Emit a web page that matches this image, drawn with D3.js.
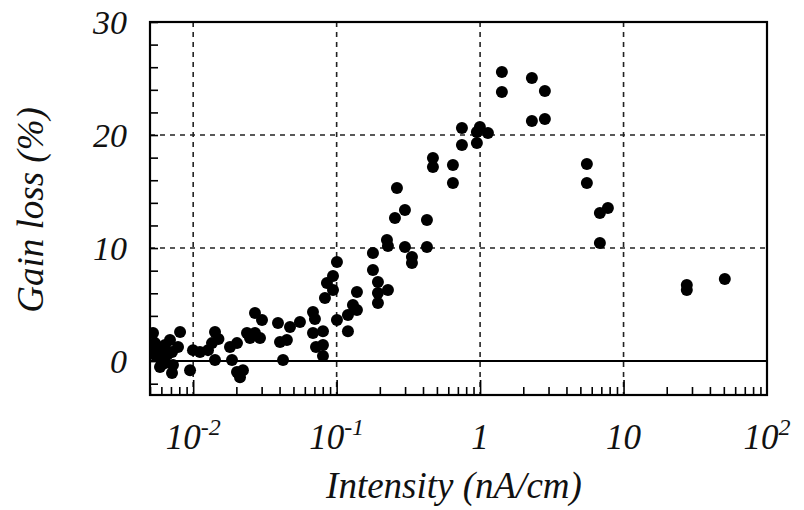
<!DOCTYPE html>
<html>
<head>
<meta charset="utf-8">
<script src="https://cdn.jsdelivr.net/npm/d3@7"></script>
<style>
  body { margin: 0; background: #fff; }
  text { font-family: "Liberation Serif", "Times New Roman", serif; font-style: italic; fill: #111; }
</style>
</head>
<body>
<div id="chart"></div>
<script>
const width = 804;
const height = 510;

// Data: beam intensity (nA/cm) and gain loss (%)
const intensity = [
  0.00525, 0.00542, 0.00542, 0.00587, 0.00606, 0.00636, 0.00689, 0.00712, 0.00712, 0.00723,
  0.00784, 0.00810, 0.00951, 0.00997, 0.01115, 0.01268, 0.01352, 0.01419, 0.01419, 0.01805,
  0.01864, 0.02020, 0.02120, 0.02223, 0.02020, 0.02371, 0.02696, 0.03017, 0.02696, 0.02488,
  0.02922, 0.0390, 0.0403, 0.0450, 0.0423, 0.0473, 0.0555, 0.0684, 0.0706, 0.0684,
  0.0718, 0.0803, 0.0803, 0.0803, 0.1005, 0.1199, 0.1199, 0.1299, 0.1385, 0.1385,
  0.0829, 0.0943, 0.0856, 0.0943, 0.1005, 0.1791, 0.1791, 0.1940, 0.1940, 0.1940,
  0.2278, 0.2242, 0.2278, 0.2633, 0.2993, 0.2550, 0.4260, 0.2993, 0.4260, 0.3349,
  0.3349, 0.469, 0.469, 0.6465, 0.6465, 0.747, 0.747, 0.950, 0.997, 1.134,
  0.950, 1.419, 1.419, 2.297, 2.829, 2.297, 2.829, 5.55, 5.55, 6.84,
  7.78, 6.84, 27.6, 27.6, 50.8,
  0.00516, 0.00587, 0.00636, 0.00660, 0.0150
];
const gainLoss = [
  2.48, 1.59, 0.53, 0.27, 0.97, -0.18, 1.86, 0.80, -1.06, -0.35,
  1.24, 2.57, -0.80, 0.97, 0.80, 0.97, 1.59, 2.57, 0.09, 1.24,
  0.09, -0.97, -1.42, -0.80, 1.59, 2.48, 4.25, 3.63, 2.48, 2.04,
  2.04, 3.36, 1.68, 1.86, 0.09, 3.01, 3.45, 4.34, 3.72, 2.48,
  1.24, 2.65, 1.42, 0.44, 3.63, 2.65, 4.07, 4.96, 4.51, 6.11,
  5.58, 6.28, 6.90, 7.52, 8.76, 9.56, 8.05, 6.99, 6.02, 5.13,
  6.28, 10.71, 10.18, 15.31, 13.36, 12.65, 12.48, 10.09, 10.09, 9.20,
  8.67, 17.96, 17.17, 17.35, 15.75, 20.62, 19.12, 20.27, 20.71, 20.18,
  19.29, 25.58, 23.81, 25.04, 23.89, 21.24, 21.42, 17.43, 15.75, 13.10,
  13.54, 10.44, 6.73, 6.28, 7.26,
  0.97, -0.53, 1.42, 0.55, 1.95
];

const xTickValues = [0.01, 0.1, 1, 10, 100];
const xTickBase = ["10", "10", "1", "10", "10"];
const xTickExp = ["-2", "-1", "", "", "2"];
const yTickValues = [0, 10, 20, 30];

const points = intensity.map((d, i) => ({x: d, y: gainLoss[i]}));

// Plot frame
const plotLeft = 150, plotRight = 767, plotTop = 22, plotBottom = 395;

const x = d3.scaleLog().domain([0.005, 100]).range([plotLeft, plotRight]);
const y = d3.scaleLinear().domain([-3, 30]).range([plotBottom, plotTop]);

const svg = d3.select("#chart").append("svg")
    .attr("width", width)
    .attr("height", height);

svg.append("defs").append("clipPath")
    .attr("id", "plot-clip")
  .append("rect")
    .attr("x", plotLeft)
    .attr("y", plotTop)
    .attr("width", plotRight - plotLeft)
    .attr("height", plotBottom - plotTop);

// Dashed grid at the decades and at 10, 20
svg.append("g")
  .selectAll("line")
  .data(xTickValues.slice(0, -1))
  .join("line")
    .attr("x1", d => x(d))
    .attr("x2", d => x(d))
    .attr("y1", plotTop)
    .attr("y2", plotBottom)
    .attr("stroke", "#222")
    .attr("stroke-width", 1.6)
    .attr("stroke-dasharray", "5,5");

svg.append("g")
  .selectAll("line")
  .data([10, 20])
  .join("line")
    .attr("x1", plotLeft)
    .attr("x2", plotRight)
    .attr("y1", d => y(d))
    .attr("y2", d => y(d))
    .attr("stroke", "#222")
    .attr("stroke-width", 1.6)
    .attr("stroke-dasharray", "5,5");

// Zero line
svg.append("line")
    .attr("x1", plotLeft)
    .attr("x2", plotRight)
    .attr("y1", y(0))
    .attr("y2", y(0))
    .attr("stroke", "#000")
    .attr("stroke-width", 2);

// Points
svg.append("g")
    .attr("clip-path", "url(#plot-clip)")
  .selectAll("circle")
  .data(points)
  .join("circle")
    .attr("cx", d => x(d.x))
    .attr("cy", d => y(d.y))
    .attr("r", 6)
    .attr("fill", "#000");

// Bottom ticks (inward): long at decades, short in between
const minorX = [];
for (let e = -3; e <= 1; e++) {
  for (let m = 1; m <= 9; m++) {
    const v = m * Math.pow(10, e);
    if (v >= 0.005 && v <= 100) minorX.push(v);
  }
}
const xAxis = d3.axisBottom(x)
    .tickValues(minorX)
    .tickSize(-8)
    .tickFormat("");
svg.append("g")
    .attr("transform", `translate(0,${plotBottom})`)
    .call(xAxis)
    .call(g => g.select(".domain").remove())
    .call(g => g.selectAll(".tick line")
        .attr("stroke", "#000")
        .attr("stroke-width", 1.6)
        .attr("y2", d => xTickValues.some(v => Math.abs(v - d) < 1e-9) ? -15 : -8));

// Left ticks (inward) every 2 units
const yAxis = d3.axisLeft(y)
    .tickValues(d3.range(-2, 31, 2))
    .tickSize(-8)
    .tickFormat("");
svg.append("g")
    .attr("transform", `translate(${plotLeft},0)`)
    .call(yAxis)
    .call(g => g.select(".domain").remove())
    .call(g => g.selectAll(".tick line").attr("stroke", "#000").attr("stroke-width", 1.6));

// Frame
svg.append("rect")
    .attr("x", plotLeft)
    .attr("y", plotTop)
    .attr("width", plotRight - plotLeft)
    .attr("height", plotBottom - plotTop)
    .attr("fill", "none")
    .attr("stroke", "#000")
    .attr("stroke-width", 2.2);

// Y tick labels
svg.append("g")
  .selectAll("text")
  .data(yTickValues)
  .join("text")
    .attr("x", 127)
    .attr("y", d => y(d))
    .attr("dy", "0.35em")
    .attr("text-anchor", "end")
    .style("font-size", "34px")
    .text(d => d);

// X tick labels with superscript exponents
const xLabels = svg.append("g")
  .selectAll("text")
  .data(xTickValues)
  .join("text")
    .attr("x", d => x(d))
    .attr("y", 449)
    .attr("text-anchor", "middle")
    .style("font-size", "35px");
xLabels.append("tspan").text((d, i) => xTickBase[i]);
xLabels.append("tspan")
    .attr("dy", -14)
    .style("font-size", "24px")
    .text((d, i) => xTickExp[i]);

// Axis titles
svg.append("text")
    .attr("x", 454)
    .attr("y", 498)
    .attr("text-anchor", "middle")
    .style("font-size", "37px")
    .text("Intensity (nA/cm)");

svg.append("text")
    .attr("transform", `translate(43,210) rotate(-90)`)
    .attr("text-anchor", "middle")
    .style("font-size", "37px")
    .text("Gain loss (%)");
</script>
</body>
</html>
